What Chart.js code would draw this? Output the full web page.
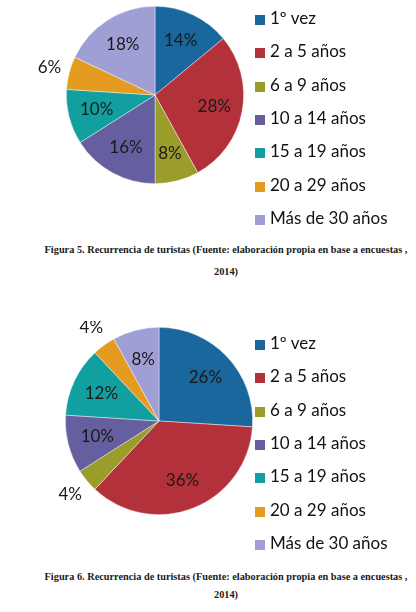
<!DOCTYPE html>
<html>
<head>
<meta charset="utf-8">
<script src="https://cdn.jsdelivr.net/npm/chart.js@4"></script>
<style>
  body { margin: 0; background: #fff; width: 416px; height: 612px; position: relative; overflow: hidden; }
  .box { position: absolute; }
  .legend { position: absolute; left: 255px; font-family: Lato, "Open Sans", sans-serif; font-size: 17px; color: #111; }
  .legend div { position: absolute; white-space: nowrap; height: 20px; line-height: 20px; }
  .legend span { display: inline-block; width: 10px; height: 10px; margin-right: 5px; vertical-align: -1px; }
  .caption { position: absolute; left: 18px; width: 416px; text-align: center; font-family: "Liberation Serif", serif; font-weight: bold; font-size: 10.3px; color: #1a1a1a; }
</style>
</head>
<body>
<div class="box" style="left:0;top:0;width:310px;height:190px"><canvas id="pie1"></canvas></div>
<div class="legend" id="legend1" style="top:8px"></div>
<div class="caption" style="top:244px">Figura 5. Recurrencia de turistas (Fuente: elaboración propia en base a encuestas ,</div>
<div class="caption" style="top:266px">2014)</div>

<div class="box" style="left:0;top:321px;width:318px;height:200px"><canvas id="pie2"></canvas></div>
<div class="legend" id="legend2" style="top:333px"></div>
<div class="caption" style="top:571px">Figura 6. Recurrencia de turistas (Fuente: elaboración propia en base a encuestas ,</div>
<div class="caption" style="top:589px">2014)</div>

<script>
// Categories and values (percent)
var categories = ['1º vez', '2 a 5 años', '6 a 9 años', '10 a 14 años', '15 a 19 años', '20 a 29 años', 'Más de 30 años'];
var valuesFig5 = [14, 28, 8, 16, 10, 6, 18];
var valuesFig6 = [26, 36, 4, 10, 12, 4, 8];
var colors = ['#19679c', '#b3313a', '#9b9d2a', '#665f9f', '#129f9f', '#e39c20', '#a09fd5'];

// Percent labels: inside the slice, small slices go outside
var pctLabels = {
    id: 'pctLabels',
    afterDatasetsDraw: function(chart) {
        var ctx = chart.ctx;
        var ds = chart.data.datasets[0];
        var meta = chart.getDatasetMeta(0);
        ctx.save();
        ctx.font = '17px Lato, "Open Sans", sans-serif';
        ctx.fillStyle = '#1a1a1a';
        ctx.textAlign = 'center';
        ctx.textBaseline = 'middle';
        meta.data.forEach(function(arc, i) {
            var p = arc.getProps(['x', 'y', 'startAngle', 'endAngle', 'outerRadius'], true);
            var mid = (p.startAngle + p.endAngle) / 2;
            var f = ds.data[i] <= 6 ? 1.23 : 0.68;
            var x = p.x + Math.cos(mid) * p.outerRadius * f;
            var y = p.y + Math.sin(mid) * p.outerRadius * f;
            ctx.fillText(ds.data[i] + '%', x, y);
        });
        ctx.restore();
    }
};

function makePie(id, values) {
    var ctx = document.getElementById(id).getContext('2d');
    return new Chart(ctx, {
        type: 'pie',
        data: {
            labels: categories,
            datasets: [{
                data: values,
                backgroundColor: colors,
                borderColor: 'rgba(255,255,255,0.6)',
                borderWidth: 0.7
            }]
        },
        options: {
            responsive: true,
            maintainAspectRatio: false,
            animation: false,
            layout: { padding: 6 },
            plugins: {
                legend: { display: false },
                tooltip: { enabled: false }
            }
        },
        plugins: [pctLabels]
    });
}

function makeLegend(id) {
    var el = document.getElementById(id);
    categories.forEach(function(c, i) {
        var d = document.createElement('div');
        d.style.top = (i * 33.3) + 'px';
        d.innerHTML = '<span style="background:' + colors[i] + '"></span>' + c;
        el.appendChild(d);
    });
}

makePie('pie1', valuesFig5);
makePie('pie2', valuesFig6);
makeLegend('legend1');
makeLegend('legend2');
</script>
</body>
</html>
